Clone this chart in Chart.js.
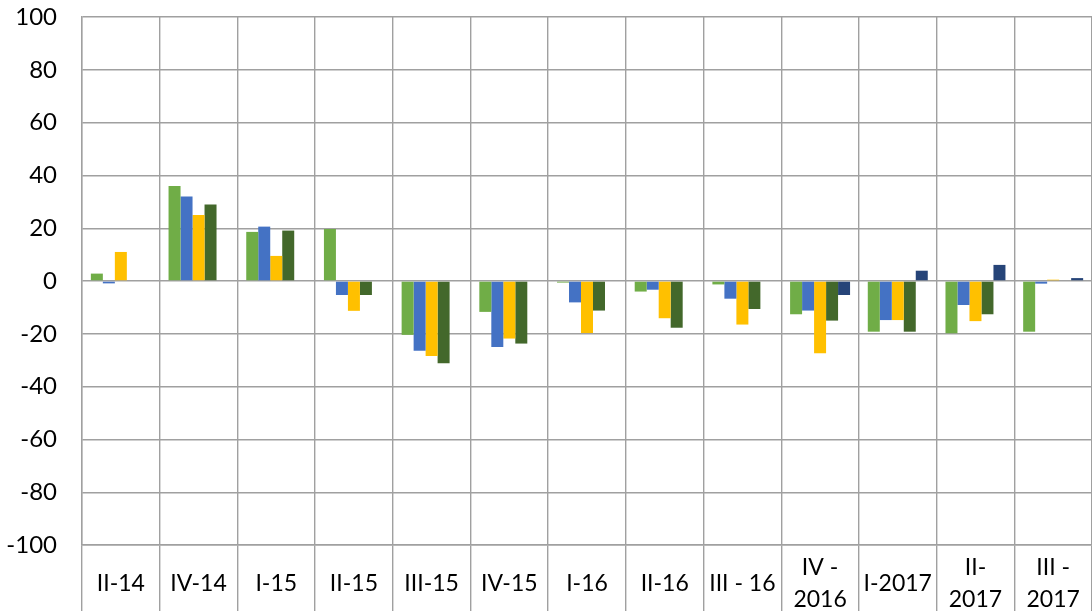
<!DOCTYPE html>
<html>
<head>
<meta charset="utf-8">
<script src="https://cdn.jsdelivr.net/npm/chart.js@4/dist/chart.umd.min.js"></script>
<style>
html,body{margin:0;padding:0;background:#fff;}
#wrap{width:1092px;height:611px;position:relative;}
</style>
</head>
<body>
<div id="wrap"><canvas id="c"></canvas></div>
<script>
const categories = ["II-14","IV-14","I-15","II-15","III-15","IV-15","I-16","II-16","III - 16",["IV -","2016"],"I-2017",["II-","2017"],["III -","2017"]];
const series1 = [2.8, 36, 18.6, 19.7, -20.4, -11.7, -0.6, -4, -1.3, -12.6, -19.2, -19.8, -19.2];
const series2 = [-0.9, 32, 20.6, -5.3, -26.4, -25, -8.1, -3.3, -6.7, -11.2, -14.8, -9.1, -1];
const series3 = [11, 25, 9.5, -11.3, -28.4, -21.8, -19.7, -14.1, -16.5, -27.4, -14.8, -15.2, 0.5];
const series4 = [null, 29, 19.1, -5.3, -31.2, -23.7, -11.2, -17.7, -10.6, -15, -19.2, -12.6, null];
const series5 = [null, null, null, null, null, null, null, null, null, -5.3, 3.9, 6.1, 1.1];
const seriesNames = ["Series 1","Series 2","Series 3","Series 4","Series 5"];
const yTicks = [-100,-80,-60,-40,-20,0,20,40,60,80,100];

const colors = ["#70AD47","#4472C4","#FFC000","#43682B","#264478"];
const data = [series1, series2, series3, series4, series5];
const gridColor = "#a0a0a0";
const FONT = "Lato, 'Open Sans', sans-serif";

new Chart(document.getElementById('c'), {
  type: 'bar',
  data: {
    labels: categories,
    datasets: data.map((d, i) => ({
      label: seriesNames[i],
      data: d,
      backgroundColor: colors[i],
      borderWidth: 0,
      categoryPercentage: 0.772,
      barPercentage: 1.0
    }))
  },
  options: {
    responsive: true,
    maintainAspectRatio: false,
    animation: false,
    layout: { padding: { top: 17, right: 0, bottom: 0, left: 0 } },
    plugins: { legend: { display: false }, tooltip: { enabled: false } },
    scales: {
      x: {
        offset: true,
        grid: { offset: true, color: gridColor, lineWidth: 1.4, drawTicks: true, tickLength: 66, tickColor: gridColor },
        border: { color: gridColor, width: 1.4 },
        ticks: {
          color: '#000', font: { family: FONT, size: 23, lineHeight: 1.39 }, maxRotation: 0, autoSkip: false,
          padding: -43.5, crossAlign: 'center'
        },
        afterFit: (s) => { s.height = 66; }
      },
      y: {
        min: -100, max: 100,
        afterBuildTicks: (s) => { s.ticks = yTicks.map(v => ({ value: v })); },
        grid: { color: gridColor, lineWidth: 1.4, drawTicks: false },
        border: { color: gridColor, width: 1.4 },
        ticks: { color: '#000', font: { family: FONT, size: 24 }, padding: 25 },
        afterFit: (s) => { s.width = 82; s.paddingTop = 0; s.paddingBottom = 0; }
      }
    }
  }
});
</script>
</body>
</html>
